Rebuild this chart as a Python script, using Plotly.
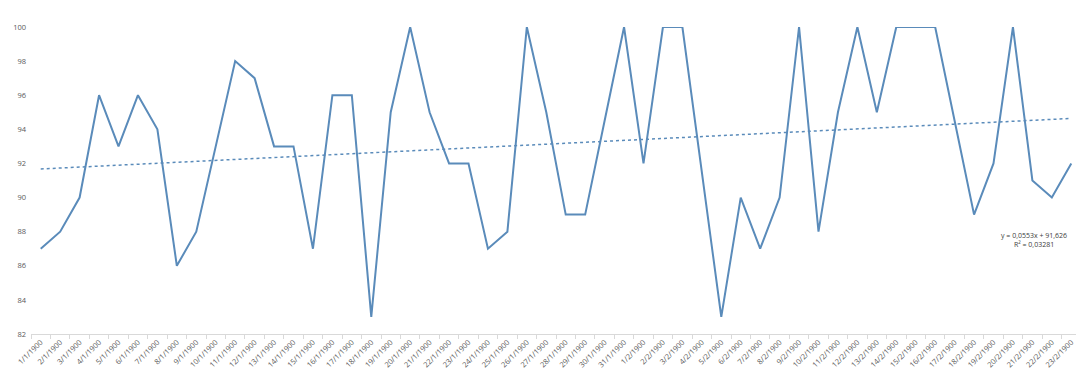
import numpy as np
import plotly.graph_objects as go

dates = [f"{d}/1/1900" for d in range(1, 32)] + [f"{d}/2/1900" for d in range(1, 24)]
values = [87, 88, 90, 96, 93, 96, 94, 86, 88, 93,
          98, 97, 93, 93, 87, 96, 96, 83, 95, 100,
          95, 92, 92, 87, 88, 100, 95, 89, 89, 94.5,
          100, 92, 100, 100, 91.5, 83, 90, 87, 90, 100,
          88, 95, 100, 95, 100, 100, 100, 94.5, 89, 92,
          100, 91, 90, 92]
y_ticks = [82, 84, 86, 88, 90, 92, 94, 96, 98, 100]
trend_text = "y = 0,0553x + 91,626<br>R² = 0,03281"

xi = np.arange(1, len(values) + 1)
slope, intercept = np.polyfit(xi, values, 1)
trend = slope * xi + intercept

color = "#5a8bba"
fig = go.Figure()
fig.add_trace(go.Scatter(x=dates, y=values, mode="lines",
                         line=dict(color=color, width=2)))
fig.add_trace(go.Scatter(x=dates, y=trend, mode="lines",
                         line=dict(color=color, width=1.5, dash="dot")))

fig.add_annotation(x=dates[51], y=87.5, xref="x", yref="y", text=trend_text,
                   showarrow=False, font=dict(family="Open Sans", size=7, color="#404040"),
                   align="center", xshift=2)

fig.update_layout(
    width=1084, height=370,
    margin=dict(l=23, r=11, t=19, b=44),
    paper_bgcolor="white", plot_bgcolor="white",
    showlegend=False,
    font=dict(family="Open Sans", color="#595959", size=8),
)
fig.update_xaxes(
    type="category", tickangle=-45, showgrid=False, automargin=False,
    showline=True, linecolor="#d9d9d9", linewidth=1,
    ticks="outside", tickson="boundaries", ticklen=4, tickcolor="#d9d9d9",
    tickfont=dict(size=7.5, color="#595959"),
    range=[-0.5, len(dates) - 0.5],
)
fig.update_yaxes(
    range=[82, 100], tickvals=y_ticks, showgrid=False, zeroline=False,
    showline=False, ticks="", automargin=False, ticklabelstandoff=4,
    tickfont=dict(size=7.5, color="#595959"),
)
fig.write_html("out.html")
